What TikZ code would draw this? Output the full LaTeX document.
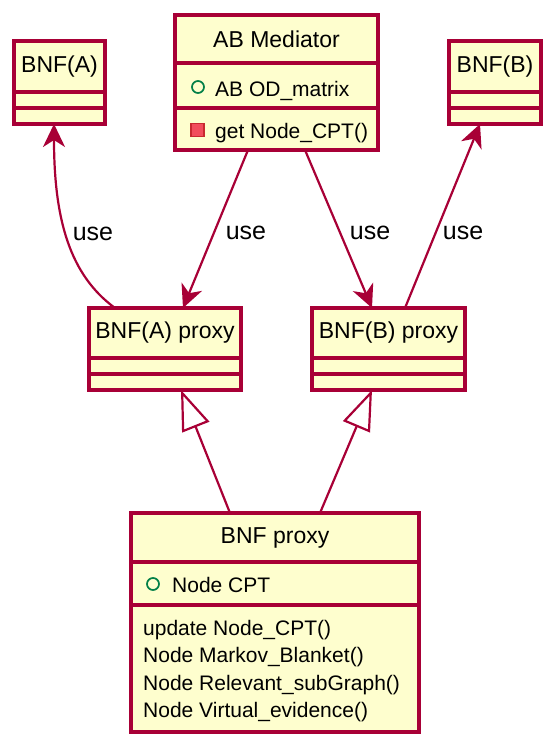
\documentclass[tikz,border=0pt]{standalone}
\usepackage{fontspec}
\setmainfont{Liberation Sans}
\usetikzlibrary{arrows.meta, positioning}
\definecolor{class edge}{HTML}{A80036}
\definecolor{class area}{HTML}{FEFECE}
\definecolor{field ring}{HTML}{038048}
\definecolor{method edge}{HTML}{C82930}
\definecolor{method area}{HTML}{F24D5C}
\tikzset{
  part/.style={draw=class edge, fill=class area, line width=3.4pt, inner sep=0pt,
    outer sep=0pt, anchor=north west},
  classname/.style={font=\fontsize{23}{27}\selectfont},
  member/.style={font=\fontsize{21}{25}\selectfont, anchor=base west, inner sep=0pt},
  fieldicon/.style={circle, draw=field ring, line width=1.7pt, minimum size=12pt, inner sep=0pt},
  methodicon/.style={draw=method edge, fill=method area, line width=1.3pt, minimum size=13pt, inner sep=0pt},
  usesarrow/.style={draw=class edge, line width=2.2pt, -{Stealth[length=23pt, width=22pt, inset=7pt]}},
  inherits/.style={draw=class edge, line width=2.2pt, -{Triangle[open, length=40pt, width=29pt, fill=white]}},
  uselabel/.style={font=\fontsize{25}{29}\selectfont, inner sep=0pt}
}

\begin{document}
\begin{tikzpicture}[x=1pt, y=-1pt]
  \useasboundingbox (0,0) rectangle (553,744);
  % BNF(A)
  \node[part, classname, minimum width=91pt, minimum height=51pt] (bnfa) at (14,41) {BNF(A)};
  \node[part, minimum width=91pt, minimum height=16pt, below=0pt of bnfa] (bnfa-a) {};
  \node[part, minimum width=91pt, minimum height=16pt, below=0pt of bnfa-a] (bnfa-m) {};
  % AB Mediator
  \node[part, classname, minimum width=203pt, minimum height=48pt] (med) at (175,15) {AB Mediator};
  \node[part, minimum width=203pt, minimum height=45pt, below=0pt of med] (med-a) {};
  \node[part, minimum width=203pt, minimum height=42pt, below=0pt of med-a] (med-m) {};
  \node[fieldicon] (med-ai) at (198,87) {};
  \node[member] (med-at) at (215,96) {AB OD\_matrix};
  \node[methodicon] (med-mi) at (197.5,130) {};
  \node[member] (med-mt) at (215,138) {get Node\_CPT()};
  % BNF(B)
  \node[part, classname, minimum width=92pt, minimum height=51pt] (bnfb) at (449,41) {BNF(B)};
  \node[part, minimum width=92pt, minimum height=16pt, below=0pt of bnfb] (bnfb-a) {};
  \node[part, minimum width=92pt, minimum height=16pt, below=0pt of bnfb-a] (bnfb-m) {};
  % proxies
  \node[part, classname, minimum width=152pt, minimum height=50pt] (aproxy) at (89,308) {BNF(A) proxy};
  \node[part, minimum width=152pt, minimum height=16pt, below=0pt of aproxy] (aproxy-a) {};
  \node[part, minimum width=152pt, minimum height=16pt, below=0pt of aproxy-a] (aproxy-m) {};
  \node[part, classname, minimum width=153pt, minimum height=50pt] (bproxy) at (312,308) {BNF(B) proxy};
  \node[part, minimum width=153pt, minimum height=16pt, below=0pt of bproxy] (bproxy-a) {};
  \node[part, minimum width=153pt, minimum height=16pt, below=0pt of bproxy-a] (bproxy-m) {};
  % BNF proxy
  \node[part, classname, minimum width=288pt, minimum height=49pt] (proxy) at (131,513) {BNF proxy};
  \node[part, minimum width=288pt, minimum height=43pt, below=0pt of proxy] (proxy-a) {};
  \node[part, minimum width=288pt, minimum height=127pt, below=0pt of proxy-a] (proxy-m) {};
  \node[fieldicon] (proxy-ai) at (153,584) {};
  \node[member] (proxy-at) at (172,592.5) {Node CPT};
  \node[member] (proxy-m1) at (143,635.5) {update Node\_CPT()};
  \node[member] (proxy-m2) at (143,662.7) {Node Markov\_Blanket()};
  \node[member] (proxy-m3) at (143,690) {Node Relevant\_subGraph()};
  \node[member] (proxy-m4) at (143,717.2) {Node Virtual\_evidence()};
  % connectors
  \draw[usesarrow] ([xshift=26pt]aproxy.north west) .. controls +(-45,-33) and +(0,96) .. ([xshift=40pt]bnfa-m.south west);
  \draw[usesarrow] ([xshift=73pt]med-m.south west) -- ([xshift=94pt]aproxy.north west);
  \draw[usesarrow] ([xshift=130pt]med-m.south west) -- ([xshift=60pt]bproxy.north west);
  \draw[usesarrow] ([xshift=93pt]bproxy.north west) -- ([xshift=31pt]bnfb-m.south west);
  \draw[inherits] ([xshift=99pt]proxy.north west) -- ([xshift=92pt]aproxy-m.south west);
  \draw[inherits] ([xshift=189pt]proxy.north west) -- ([xshift=60pt]bproxy-m.south west);
  \node[uselabel] (use1) at (93,234) {use};
  \node[uselabel] (use2) at (246,233) {use};
  \node[uselabel] (use3) at (370,233) {use};
  \node[uselabel] (use4) at (463,233) {use};
\end{tikzpicture}
\end{document}
